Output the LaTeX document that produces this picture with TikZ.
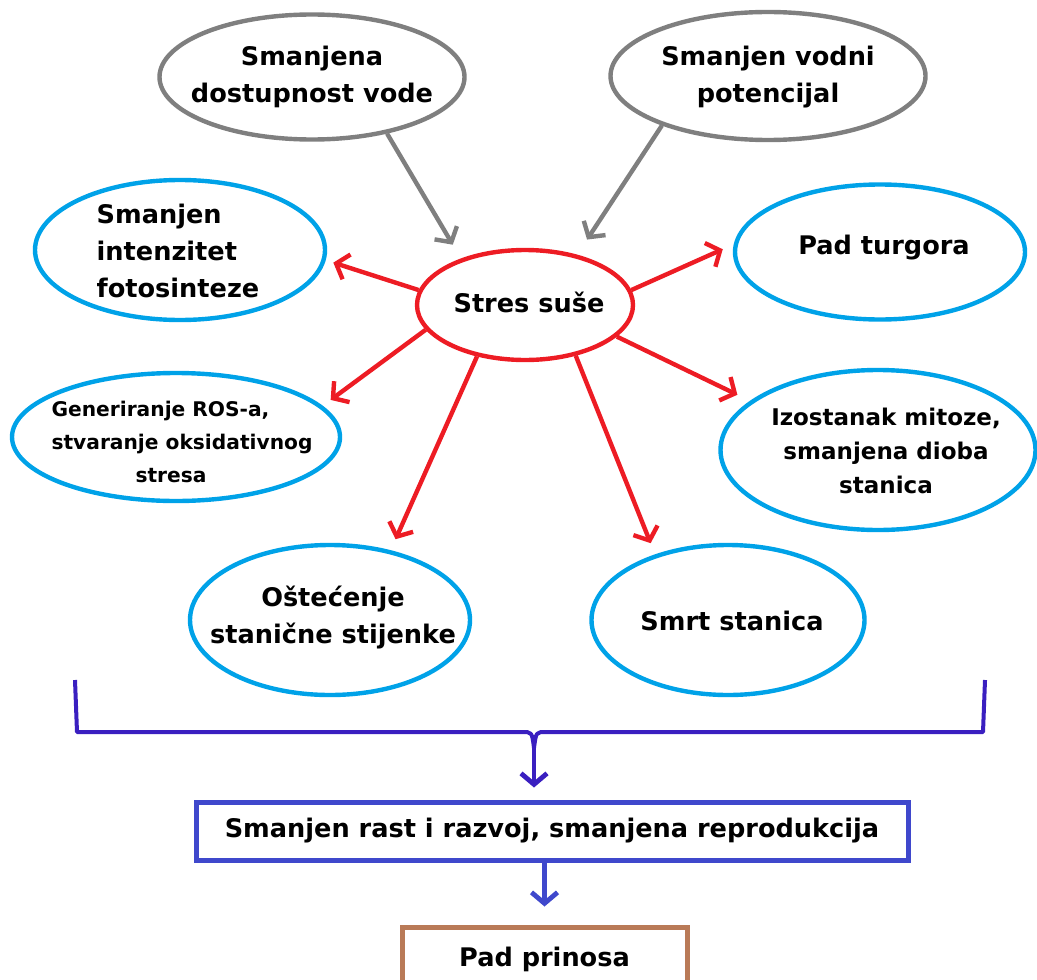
\documentclass[tikz,border=0pt]{standalone}
\usepackage{fontspec}
\setmainfont{DejaVu Sans}
\usetikzlibrary{arrows.meta,positioning,shapes.geometric}
\definecolor{paintred}{HTML}{ED1C24}
\definecolor{paintblue}{HTML}{00A2E8}
\definecolor{paintgrey}{HTML}{7F7F7F}
\definecolor{paintindigo}{HTML}{3F48CC}
\definecolor{paintbrown}{HTML}{B97A57}
\definecolor{braceviolet}{HTML}{3A1FC0}

\begin{document}
\begin{tikzpicture}[x=0.5pt,y=-0.5pt,
    bub/.style={ellipse,draw,line width=2.2pt,inner sep=0pt},
    greybub/.style={bub,draw=paintgrey},
    redbub/.style={bub,draw=paintred},
    bluebub/.style={bub,draw=paintblue},
    txt/.style={font=\fontsize{12.8}{18.5}\selectfont\bfseries,align=center,inner sep=0pt},
    smalltxt/.style={font=\fontsize{10.1}{16.5}\selectfont\bfseries,align=left,inner sep=0pt},
    box/.style={draw,line width=2.5pt,inner sep=0pt,font=\fontsize{12.8}{18.5}\selectfont\bfseries},
    barb/.style={-{Straight Barb[length=5.5pt,width=13pt]}},
    greyarr/.style={barb,draw=paintgrey,line width=2.2pt},
    redarr/.style={barb,draw=paintred,line width=2.2pt},
    indigoarr/.style={barb,draw=paintindigo,line width=2.4pt},
    brace/.style={draw=braceviolet,line width=2pt,line join=round}]
  \useasboundingbox (0,0) rectangle (1037,979);
  \clip (0,0) rectangle (1037,979);

  % uzroci
  \node[greybub,minimum width=152.5pt,minimum height=62.5pt] (dost) at (312,77) {};
  \node[txt] (dosttxt) at (312,77) {Smanjena\\dostupnost vode};
  \node[greybub,minimum width=157.5pt,minimum height=64pt] (vodni) at (768,76) {};
  \node[txt] (vodnitxt) at (768,77) {Smanjen vodni\\potencijal};

  % sredina
  \node[redbub,minimum width=108pt,minimum height=55pt] (stres) at (525,305) {};
  \node[txt] (strestxt) at (529,302) {Stres suše};

  % posljedice
  \node[bluebub,minimum width=145pt,minimum height=70pt] (foto) at (180,250) {};
  \node[txt,align=left] (fototxt) at (178,251) {Smanjen\\intenzitet\\fotosinteze};
  \node[bluebub,minimum width=145pt,minimum height=67.5pt] (turgor) at (880,252) {};
  \node[txt] (turgortxt) at (884,248) {Pad turgora};
  \node[bluebub,minimum width=164pt,minimum height=64pt] (ros) at (176,437) {};
  \node[smalltxt] (rostxt) at (182,442) {Generiranje ROS-a,\\stvaranje oksidativnog\\\hspace*{42pt}stresa};
  \node[bluebub,minimum width=157.5pt,minimum height=80pt] (mitoza) at (878,450) {};
  \node[txt,font=\fontsize{11.5}{17}\selectfont\bfseries] (mitozatxt) at (886,451) {Izostanak mitoze,\\smanjena dioba\\stanica};
  \node[bluebub,minimum width=140pt,minimum height=75pt] (ostec) at (330,620) {};
  \node[txt] (ostectxt) at (333,618) {Oštećenje\\stanične stijenke};
  \node[bluebub,minimum width=136.5pt,minimum height=75pt] (smrt) at (728,620) {};
  \node[txt] (smrttxt) at (732,621) {Smrt stanica};

  % strelice
  \draw[greyarr,shorten >=8pt] (dost.-37) -- (stres.144);
  \draw[greyarr,shorten >=9pt] (vodni.205) -- (stres.44);
  \draw[redarr,shorten >=4pt] (stres.172) -- (foto.-4);
  \draw[redarr,shorten >=6pt] (stres.8) -- (turgor.177);
  \draw[redarr,shorten >=5pt] (stres.194) -- (ros.12);
  \draw[redarr,shorten >=7pt] (stres.341) -- (mitoza.159);
  \draw[redarr,shorten >=6pt] (stres.227) -- (ostec.49);
  \draw[redarr,shorten >=6pt] (stres.315) -- (smrt.138);

  % zagrada i ishod
  \node[box,draw=paintindigo,minimum width=356pt,minimum height=29pt] (rast) at (552,831) {Smanjen rast i razvoj, smanjena reprodukcija};
  \node[box,draw=paintbrown,minimum width=142.5pt,minimum height=36pt,text depth=6pt] (prinos) at (544.5,963) {Pad prinosa};
  \coordinate (braceL) at (75,680);
  \coordinate (braceR) at (985,680);
  \coordinate (bracetip) at (534,748);
  \draw[brace] (braceL) -- (77,732) -- (522,732) .. controls (532,732) .. (bracetip)
    .. controls (536,732) .. (546,732) -- (983,732) -- (braceR);
  \draw[indigoarr,draw=braceviolet,shorten >=6pt] (bracetip) -- (bracetip |- rast.north);
  \draw[indigoarr,shorten >=9pt] (rast.south -| prinos.north) -- (prinos.north);
\end{tikzpicture}
\end{document}
